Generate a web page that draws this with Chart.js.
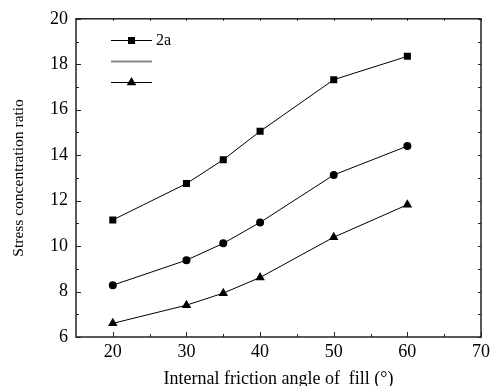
<!DOCTYPE html>
<html>
<head>
<meta charset="utf-8">
<script src="https://cdn.jsdelivr.net/npm/chart.js@4.4.0/dist/chart.umd.min.js"></script>
<style>
  html, body { margin: 0; padding: 0; background: #fff; }
  #wrap { width: 494px; height: 386px; position: relative; }
</style>
</head>
<body>
<div id="wrap"><canvas id="stressChart" width="494" height="386"></canvas></div>
<script>
// data
var angles = [20, 30, 35, 40, 50, 60];
var ratioSquare = [11.15, 12.75, 13.8, 15.05, 17.32, 18.35];
var ratioCircle = [8.28, 9.38, 10.12, 11.04, 13.13, 14.4];
var ratioTriangle = [6.6, 7.4, 7.93, 8.62, 10.39, 11.82];
var xTicks = [20, 30, 40, 50, 60, 70];
var yTicks = [6, 8, 10, 12, 14, 16, 18, 20];
var legendLabels = ['2a', '', ''];

var serif = '"Liberation Serif", "Times New Roman", serif';

function toPoints(ys) {
    return angles.map(function (a, i) { return { x: a, y: ys[i] }; });
}

// frame + inward ticks, drawn from the chart scales
var framePlugin = {
    id: 'frame',
    afterDraw: function (chart) {
        var c = chart.ctx, a = chart.chartArea;
        var xs = chart.scales.x, ys = chart.scales.y;
        c.save();
        c.strokeStyle = '#222';
        c.lineWidth = 1.5;
        c.strokeRect(a.left, a.top, a.right - a.left, a.bottom - a.top);
        c.lineWidth = 1;
        c.beginPath();
        for (var v = 20; v <= 70; v += 5) {
            var px = Math.round(xs.getPixelForValue(v)) + 0.5;
            var len = v % 10 === 0 ? 5 : 3;
            c.moveTo(px, a.bottom); c.lineTo(px, a.bottom - len);
            c.moveTo(px, a.top); c.lineTo(px, a.top + 2);
        }
        for (var w = 6; w <= 20; w += 1) {
            var py = Math.round(ys.getPixelForValue(w)) + 0.5;
            var l2 = w % 2 === 0 ? 5 : 3;
            c.moveTo(a.left, py); c.lineTo(a.left + l2, py);
            c.moveTo(a.right, py); c.lineTo(a.right - 3, py);
        }
        c.stroke();
        c.restore();
    }
};

// legend in the style of the figure: line segment with marker
var legendPlugin = {
    id: 'lineLegend',
    afterDraw: function (chart) {
        var c = chart.ctx;
        var x0 = 111, x1 = 152, mx = 131.5;
        var rows = [40.5, 61.5, 82.5];
        c.save();
        rows.forEach(function (y, i) {
            c.beginPath();
            if (i === 1) { c.strokeStyle = '#8a8a8a'; c.lineWidth = 2; }
            else { c.strokeStyle = '#000'; c.lineWidth = 1; }
            c.moveTo(x0, y); c.lineTo(x1, y);
            c.stroke();
            c.fillStyle = '#000';
            if (i === 0) {
                c.fillRect(mx - 3.5, y - 3.5, 7, 7);
            } else if (i === 2) {
                c.beginPath();
                c.moveTo(mx, y - 5.5);
                c.lineTo(mx + 4.8, y + 2.75);
                c.lineTo(mx - 4.8, y + 2.75);
                c.closePath();
                c.fill();
            }
            if (legendLabels[i]) {
                c.font = '16px ' + serif;
                c.textBaseline = 'middle';
                c.textAlign = 'left';
                c.fillText(legendLabels[i], 156, y + 0.5);
            }
        });
        c.restore();
    }
};

function series(label, ys, style, r) {
    return {
        label: label,
        data: toPoints(ys),
        showLine: true,
        borderColor: '#000',
        backgroundColor: '#000',
        borderWidth: 1,
        pointStyle: style,
        pointRadius: r,
        pointBorderWidth: 0,
        pointBackgroundColor: '#000'
    };
}

var ctx = document.getElementById('stressChart').getContext('2d');
var stressChart = new Chart(ctx, {
    type: 'scatter',
    data: {
        datasets: [
            series('2a', ratioSquare, 'rect', 5),
            series('circle', ratioCircle, 'circle', 4),
            series('triangle', ratioTriangle, 'triangle', 5.5)
        ]
    },
    options: {
        responsive: false,
        animation: false,
        layout: { padding: { top: 18, right: 9, left: 0, bottom: 0 } },
        plugins: { legend: { display: false }, tooltip: { enabled: false } },
        scales: {
            x: {
                type: 'linear',
                min: 15,
                max: 70,
                afterBuildTicks: function (s) { s.ticks = xTicks.map(function (v) { return { value: v }; }); },
                afterFit: function (s) { s.height = 49; },
                grid: { display: false, drawTicks: false },
                border: { display: false },
                ticks: { color: '#000', padding: 4, font: { family: serif, size: 18 } },
                title: {
                    display: true,
                    text: 'Internal friction angle of  fill (°)',
                    color: '#000',
                    padding: { top: 0, bottom: -4 },
                    font: { family: serif, size: 18 }
                }
            },
            y: {
                min: 6,
                max: 20,
                afterBuildTicks: function (s) { s.ticks = yTicks.map(function (v) { return { value: v }; }); },
                afterFit: function (s) { s.width = 76; },
                grid: { display: false, drawTicks: false },
                border: { display: false },
                ticks: { color: '#000', padding: 8, font: { family: serif, size: 18 } },
                title: {
                    display: true,
                    text: 'Stress concentration ratio',
                    color: '#000',
                    padding: { top: 9.5, bottom: 0 },
                    font: { family: serif, size: 15.5 }
                }
            }
        }
    },
    plugins: [framePlugin, legendPlugin]
});
</script>
</body>
</html>
